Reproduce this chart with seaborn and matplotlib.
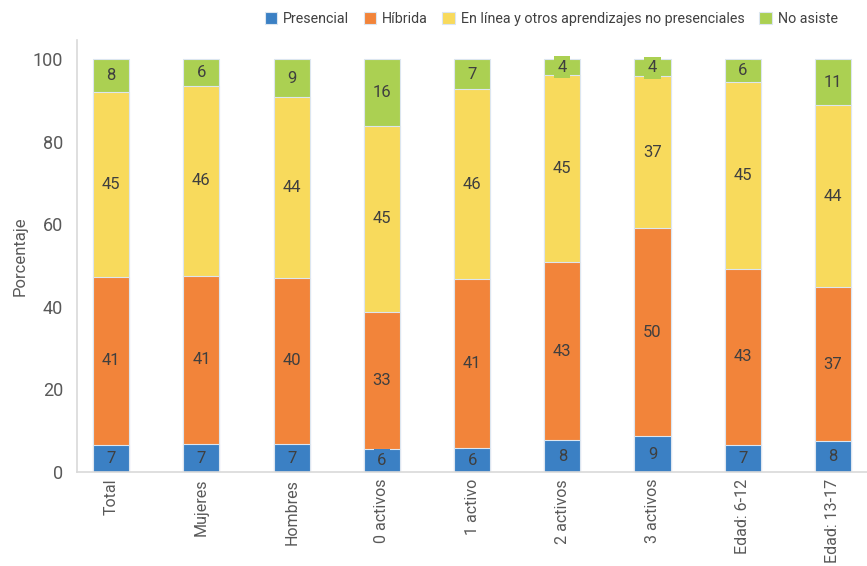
import numpy as np
import pandas as pd
import matplotlib.pyplot as plt
import seaborn as sns

# Data (percent)
categories = ["Total", "Mujeres", "Hombres", "0 activos", "1 activo",
              "2 activos", "3 activos", "Edad: 6-12", "Edad: 13-17"]
presencial = [6.6, 6.8, 6.8, 5.6, 5.8, 7.7, 8.7, 6.6, 7.5]
hibrida = [40.6, 40.7, 40.2, 33.2, 40.9, 43.1, 50.4, 42.6, 37.3]
en_linea = [44.8, 46.1, 43.8, 45.0, 46.0, 45.3, 36.8, 45.2, 44.1]
no_asiste = [8.0, 6.4, 9.2, 16.2, 7.3, 3.9, 4.1, 5.6, 11.1]

series_names = ["Presencial", "Híbrida", "En línea y otros aprendizajes no presenciales", "No asiste"]
colors = ["#3B80C4", "#F2843A", "#F8DA5C", "#ABD052"]

df = pd.DataFrame({"cat": categories, "Presencial": presencial, "Híbrida": hibrida,
                   series_names[2]: en_linea, "No asiste": no_asiste})

sns.set_style("white")
plt.rcParams["font.family"] = ["Roboto", "DejaVu Sans"]

fig = plt.figure(figsize=(8.67, 5.66), dpi=100)
ax = fig.add_axes([0.089, 0.166, 0.911, 0.763])

# cumulative tops, draw from the tallest down so the stacks show
cum = df[series_names].cumsum(axis=1)
for name, col in reversed(list(zip(series_names, colors))):
    sns.barplot(x=df["cat"], y=cum[name], color=col, saturation=1, width=0.4, ax=ax,
                edgecolor="#DCE6F0", linewidth=0.8, label=name)

# segment labels
for i in range(len(categories)):
    base = 0
    for name, col in zip(series_names, colors):
        v = df[name][i]
        ax.text(i, base + v / 2, f"{int(np.floor(v + 0.5))}", ha="center", va="center",
                fontsize=12, color="#3F3F3F",
                bbox=dict(facecolor=col, edgecolor="none", pad=2.5))
        base += v

ax.set_ylim(0, 104.6)
ax.set_xlim(-0.377, 8.377)
ax.set_yticks([0, 20, 40, 60, 80, 100])
ax.set_xlabel("")
ax.set_ylabel("Porcentaje", fontsize=12, color="#595959")
ax.tick_params(axis="y", labelsize=13, labelcolor="#595959", length=0, pad=10)
ax.tick_params(axis="x", labelsize=11.5, labelcolor="#595959", length=0, pad=5)
plt.setp(ax.get_xticklabels(), rotation=90)
for s in ["top", "right"]:
    ax.spines[s].set_visible(False)
for s in ["left", "bottom"]:
    ax.spines[s].set_color("#D9D9D9")
    ax.spines[s].set_linewidth(1.2)

handles, labels = ax.get_legend_handles_labels()
order = [labels.index(n) for n in series_names]
ax.legend([handles[k] for k in order], series_names, loc="upper center",
          bbox_to_anchor=(0.60, 1.095), ncol=4, frameon=False, fontsize=10.3,
          handlelength=0.9, handleheight=0.9, handletextpad=0.4, columnspacing=1.0,
          labelcolor="#404040")

fig.savefig("out.png", dpi=100)
